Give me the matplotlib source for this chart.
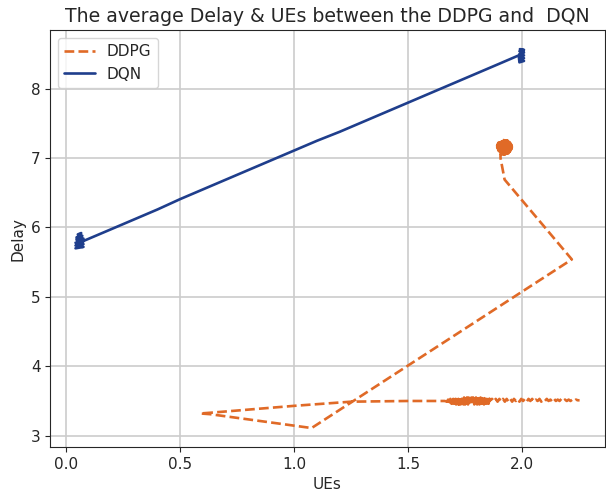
import numpy as np
import matplotlib.pyplot as plt
import seaborn as sns

sns.set_style("ticks")
plt.rcParams['path.simplify'] = False

# DDPG trajectory (UEs, Delay)
# noisy blob near (1.92, 7.15)
ddpg_top_x = [1.915, 1.935, 1.900, 1.945, 1.895, 1.950, 1.892, 1.954, 1.890, 1.955, 1.890,
              1.955, 1.892, 1.953, 1.895, 1.950, 1.898, 1.945, 1.900, 1.940, 1.905, 1.925,
              1.900, 1.945, 1.895, 1.952, 1.892, 1.952, 1.895, 1.948, 1.905, 1.935, 1.905]
ddpg_top_y = [7.26, 7.25, 7.24, 7.23, 7.22, 7.21, 7.20, 7.19, 7.18, 7.17, 7.16,
              7.15, 7.14, 7.13, 7.12, 7.11, 7.10, 7.09, 7.08, 7.07, 7.06, 7.05,
              7.075, 7.095, 7.115, 7.135, 7.155, 7.175, 7.195, 7.215, 7.235, 7.255, 7.05]
# drift down, back left and along the bottom
ddpg_mid_x = [1.905, 1.923, 2.218, 1.076, 0.63, 0.588, 0.63, 1.00, 1.25, 1.50, 1.66]
ddpg_mid_y = [7.00, 6.69, 5.54, 3.11, 3.31, 3.32, 3.33, 3.43, 3.49, 3.50, 3.50]
# noisy band near delay 3.5: dense part, scanned forward, back and forward again
ddpg_band_x = [1.670, 1.675, 1.680, 1.685, 1.690, 1.695, 1.700, 1.705, 1.710, 1.715,
               1.720, 1.725, 1.730, 1.735, 1.740, 1.745, 1.750, 1.755, 1.760, 1.765,
               1.770, 1.775, 1.780, 1.785, 1.790, 1.795, 1.800, 1.805, 1.810, 1.815,
               1.820, 1.825, 1.830, 1.835, 1.840, 1.845, 1.850, 1.855, 1.860,
               1.8575, 1.8525, 1.8475, 1.8425, 1.8375, 1.8325, 1.8275, 1.8225, 1.8175, 1.8125,
               1.8075, 1.8025, 1.7975, 1.7925, 1.7875, 1.7825, 1.7775, 1.7725, 1.7675, 1.7625,
               1.7575, 1.7525, 1.7475, 1.7425, 1.7375, 1.7325, 1.7275, 1.7225, 1.7175, 1.7125,
               1.7075, 1.7025, 1.6975, 1.6925, 1.6875, 1.6825, 1.6775, 1.6725,
               1.68, 1.69, 1.70, 1.71, 1.72, 1.73, 1.74, 1.75, 1.76, 1.77,
               1.78, 1.79, 1.80, 1.81, 1.82, 1.83, 1.84, 1.85, 1.86]
ddpg_band_y = [3.49, 3.52, 3.47, 3.53, 3.46, 3.54, 3.46, 3.54, 3.45, 3.55,
               3.45, 3.55, 3.45, 3.54, 3.46, 3.55, 3.45, 3.54, 3.46, 3.55,
               3.45, 3.54, 3.46, 3.55, 3.45, 3.54, 3.46, 3.54, 3.46, 3.55,
               3.46, 3.54, 3.47, 3.54, 3.47, 3.53, 3.47, 3.53, 3.48,
               3.53, 3.46, 3.54, 3.46, 3.55, 3.45, 3.54, 3.46, 3.55, 3.45,
               3.54, 3.45, 3.55, 3.46, 3.54, 3.45, 3.55, 3.46, 3.54, 3.45,
               3.55, 3.46, 3.54, 3.45, 3.55, 3.46, 3.54, 3.45, 3.54, 3.46,
               3.53, 3.46, 3.53, 3.47, 3.52, 3.48, 3.51, 3.49,
               3.51, 3.48, 3.52, 3.47, 3.53, 3.48, 3.52, 3.47, 3.53, 3.48,
               3.52, 3.47, 3.53, 3.48, 3.52, 3.48, 3.52, 3.49, 3.52]
# thinner tail of the band
ddpg_tail_x = [1.868, 1.876, 1.884, 1.892, 1.900, 1.908, 1.916, 1.924, 1.932, 1.940,
               1.948, 1.956, 1.964, 1.972, 1.980, 1.988, 1.996, 2.004, 2.012, 2.020,
               2.028, 2.036, 2.044, 2.052, 2.060, 2.068, 2.076, 2.084, 2.092, 2.100,
               2.108, 2.116, 2.124, 2.132, 2.140, 2.148, 2.156, 2.164, 2.172, 2.180,
               2.188, 2.196, 2.204, 2.212, 2.220, 2.228, 2.236, 2.244, 2.252]
ddpg_tail_y = [3.53, 3.49, 3.53, 3.49, 3.53, 3.49, 3.53, 3.49, 3.53, 3.49,
               3.53, 3.49, 3.53, 3.50, 3.53, 3.49, 3.53, 3.50, 3.53, 3.49,
               3.53, 3.50, 3.53, 3.49, 3.52, 3.50, 3.53, 3.49, 3.52, 3.50,
               3.53, 3.50, 3.52, 3.49, 3.53, 3.50, 3.52, 3.50, 3.53, 3.50,
               3.52, 3.50, 3.52, 3.50, 3.52, 3.50, 3.52, 3.51, 3.51]

# DQN trajectory
dqn_x = [0.04, 0.075, 0.04, 0.075, 0.04, 0.075, 0.045, 0.075, 0.045, 0.07, 0.05, 0.065,
         0.06, 0.045, 0.07, 0.045, 0.07, 0.05, 0.071,
         0.2, 0.3, 0.4, 0.5, 0.6, 0.7, 0.8, 0.9,
         1.0, 1.1, 1.2, 1.3, 1.4, 1.5, 1.6, 1.7, 1.8, 1.9, 1.985,
         1.988, 2.008, 1.988, 2.008, 1.988, 2.008, 1.988, 2.008, 1.988, 2.008, 1.99, 2.005,
         1.995, 2.0]
dqn_y = [5.70, 5.72, 5.74, 5.76, 5.78, 5.80, 5.82, 5.84, 5.86, 5.88, 5.90, 5.92,
         5.88, 5.84, 5.80, 5.76, 5.72, 5.75, 5.80,
         5.98, 6.12, 6.26, 6.41, 6.55, 6.69, 6.83, 6.97,
         7.11, 7.25, 7.38, 7.52, 7.66, 7.80, 7.94, 8.08, 8.22, 8.36, 8.48,
         8.38, 8.40, 8.42, 8.44, 8.46, 8.48, 8.50, 8.52, 8.54, 8.56, 8.57, 8.55,
         8.45, 8.50]

ddpg_x = ddpg_top_x + ddpg_mid_x + ddpg_band_x + ddpg_tail_x
ddpg_y = ddpg_top_y + ddpg_mid_y + ddpg_band_y + ddpg_tail_y

fig = plt.figure(figsize=(6.06, 4.95), dpi=100)
ax = fig.add_axes([0.083, 0.097, 0.915, 0.842])

ax.plot(ddpg_x, ddpg_y, '--', color='#e06a27', lw=1.9, label='DDPG')
ax.plot(dqn_x, dqn_y, '-', color='#1f3e8c', lw=1.9, label='DQN')

ax.set_title('The average Delay & UEs between the DDPG and  DQN', fontsize=13.6)
ax.set_xlabel('UEs', fontsize=11)
ax.set_ylabel('Delay', fontsize=11)
ax.tick_params(labelsize=11)
ax.grid(True, color='#cccccc', lw=1.2)
ax.legend(loc='upper left', fontsize=11)

fig.savefig('out.png', dpi=100)
